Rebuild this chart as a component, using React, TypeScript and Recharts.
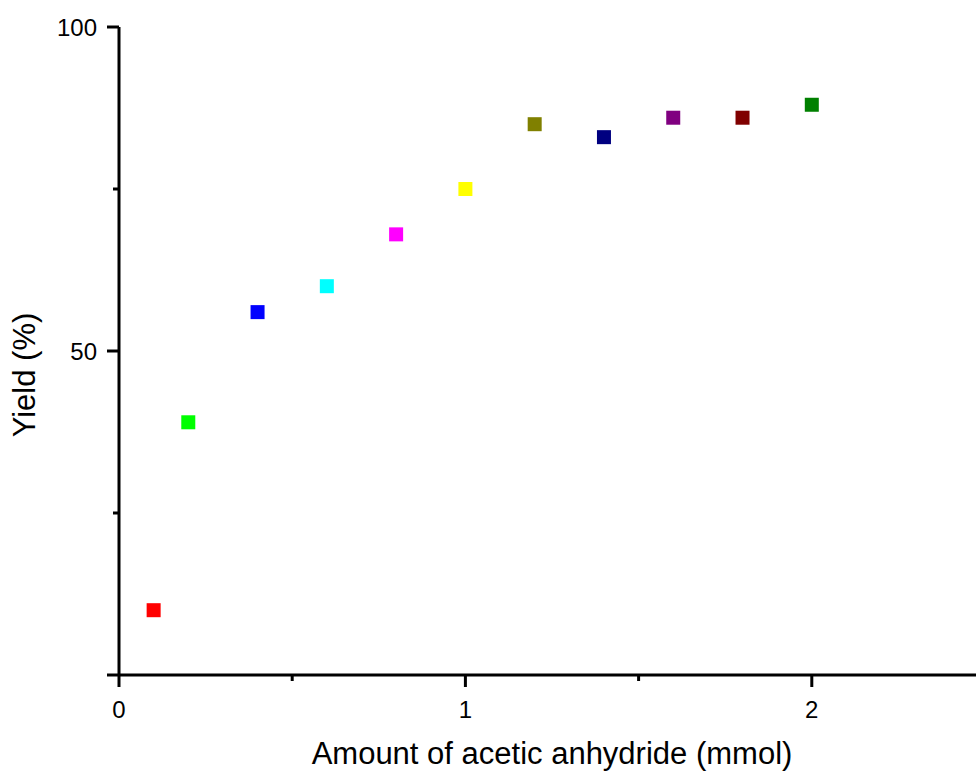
import React from 'react';
import { ScatterChart, Scatter, XAxis, YAxis, Cell } from 'recharts';

// amount of acetic anhydride (mmol) vs yield (%)
const AMOUNTS = [0.1, 0.2, 0.4, 0.6, 0.8, 1.0, 1.2, 1.4, 1.6, 1.8, 2.0];
const YIELDS = [10, 39, 56, 60, 68, 75, 85, 83, 86, 86, 88];
const COLORS = [
  '#ff0000', '#00ff00', '#0000ff', '#00ffff', '#ff00ff', '#ffff00',
  '#808000', '#000080', '#800080', '#800000', '#008000',
];

const X_TICKS = [0, 0.5, 1, 1.5, 2, 2.5];
const X_LABELED = [0, 1, 2];
const Y_TICKS = [0, 25, 50, 75, 100];
const Y_LABELED = [50, 100];

const X_TITLE = 'Amount of acetic anhydride (mmol)';
const Y_TITLE = 'Yield (%)';

const FONT = '"Liberation Sans", Arial, sans-serif';
const PLOT_LEFT = 119;
const PLOT_TOP = 27;
const PLOT_BOTTOM = 675;
const MAJOR = 12;
const MINOR = 6;

const data = AMOUNTS.map((x, i) => ({ x, y: YIELDS[i] }));

function XTick(props: any) {
  const { x, payload } = props;
  const major = X_LABELED.includes(payload.value);
  return (
    <g>
      <line x1={x} x2={x} y1={PLOT_BOTTOM} y2={PLOT_BOTTOM + (major ? MAJOR : MINOR)} stroke="#000" strokeWidth={3} />
      {major && (
        <text x={x} y={PLOT_BOTTOM + 42.5} textAnchor="middle" fontSize={24} fontFamily={FONT} fill="#000">
          {payload.value}
        </text>
      )}
    </g>
  );
}

function YTick(props: any) {
  const { y, payload } = props;
  const major = payload.value % 50 === 0;
  const labeled = Y_LABELED.includes(payload.value);
  return (
    <g>
      <line x1={PLOT_LEFT - (major ? MAJOR : MINOR)} x2={PLOT_LEFT} y1={y} y2={y} stroke="#000" strokeWidth={3} />
      {labeled && (
        <text x={PLOT_LEFT - 22} y={y} dy="0.36em" textAnchor="end" fontSize={24} fontFamily={FONT} fill="#000">
          {payload.value}
        </text>
      )}
    </g>
  );
}

function XTitle(props: any) {
  const vb = props.viewBox || { x: PLOT_LEFT, y: PLOT_BOTTOM, width: 866 };
  return (
    <text x={vb.x + vb.width / 2} y={764} textAnchor="middle" fontSize={31} fontFamily={FONT} fill="#000">
      {X_TITLE}
    </text>
  );
}

function YTitle() {
  const cx = 35;
  const cy = 375;
  return (
    <text x={cx} y={cy} transform={`rotate(-90, ${cx}, ${cy})`} textAnchor="middle" fontSize={31} fontFamily={FONT} fill="#000">
      {Y_TITLE}
    </text>
  );
}

function Square(props: any) {
  const { cx, cy, fill } = props;
  return <rect x={cx - 7} y={cy - 7} width={14} height={14} fill={fill} />;
}

export default function App() {
  return (
    <div style={{ position: 'absolute', left: 0, top: 0, width: 976, height: 774, overflow: 'hidden', background: '#fff' }}>
      <ScatterChart width={990} height={774} margin={{ top: PLOT_TOP, right: 5, bottom: 0, left: 0 }}>
        <XAxis
          type="number"
          dataKey="x"
          domain={[0, 2.5]}
          ticks={X_TICKS}
          allowDataOverflow
          height={774 - PLOT_BOTTOM}
          axisLine={{ stroke: '#000', strokeWidth: 3 }}
          tickLine={false}
          tick={<XTick />}
          label={<XTitle />}
        />
        <YAxis
          type="number"
          dataKey="y"
          domain={[0, 100]}
          ticks={Y_TICKS}
          width={PLOT_LEFT}
          axisLine={{ stroke: '#000', strokeWidth: 3 }}
          tickLine={false}
          tick={<YTick />}
          label={<YTitle />}
        />
        <Scatter data={data} shape={<Square />} isAnimationActive={false}>
          {data.map((_, i) => (
            <Cell key={i} fill={COLORS[i]} />
          ))}
        </Scatter>
      </ScatterChart>
    </div>
  );
}
